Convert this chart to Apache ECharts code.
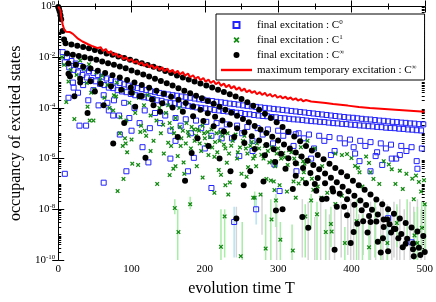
<!DOCTYPE html>
<html><head><meta charset="utf-8">
<script src="https://cdn.jsdelivr.net/npm/echarts@6/dist/echarts.min.js"></script>
<style>html,body{margin:0;padding:0;background:#fff}#c{width:436px;height:302px}</style>
</head><body><div id="c"></div><script>
// All occupancy values are stored as log10(occupancy).
// x = evolution time T

// --- C^0 (blue open squares)
const c0Row1 = [[6,-1.8],[12,-2.0],[18,-2.15],[24,-2.25],[30,-2.35],[36,-2.45],[42,-2.55],[48,-2.62],[54,-2.7],[60,-2.77],[66,-2.84],[72,-2.9],[78,-2.96],[84,-3.02],[90,-3.07],[96,-3.12],[102,-3.17],[108,-3.22],[114,-3.26],[120,-3.3],[126,-3.34],[132,-3.38],[138,-3.41],[144,-3.44],[150,-3.47],[156,-3.5],[162,-3.52],[168,-3.55],[174,-3.58],[180,-3.6],[186,-3.63],[192,-3.66],[198,-3.68],[204,-3.71],[210,-3.73],[216,-3.76],[222,-3.78],[228,-3.8],[234,-3.83],[240,-3.85],[246,-3.87],[252,-3.9],[258,-3.92],[264,-3.94],[270,-3.96],[276,-3.98],[282,-4.0],[288,-4.02],[294,-4.04],[300,-4.06],[306,-4.08],[312,-4.1],[318,-4.12],[324,-4.14],[330,-4.16],[336,-4.18],[342,-4.2],[348,-4.22],[354,-4.24],[360,-4.26],[366,-4.28],[372,-4.3],[378,-4.32],[384,-4.34],[390,-4.36],[396,-4.38],[402,-4.39],[408,-4.41],[414,-4.43],[420,-4.45],[426,-4.46],[432,-4.48],[438,-4.5],[444,-4.51],[450,-4.53],[456,-4.55],[462,-4.56],[468,-4.58],[474,-4.59],[480,-4.61],[486,-4.62],[492,-4.64],[498,-4.65]];
const c0Row2 = [[9,-2.2],[15,-2.4],[21,-2.5],[27,-2.6],[33,-2.7],[39,-2.8],[45,-2.9],[51,-2.95],[57,-3.05],[63,-3.1],[69,-3.2],[75,-3.22],[81,-3.3],[87,-3.35],[93,-3.38],[99,-3.45],[105,-3.5],[111,-3.52],[117,-3.58],[123,-3.6],[129,-3.65],[135,-3.7],[141,-3.72],[147,-3.78],[153,-3.8],[159,-3.82],[165,-3.86],[171,-3.9],[177,-3.92],[183,-3.95],[189,-3.98],[195,-4.0],[201,-4.02],[207,-4.05],[213,-4.08],[219,-4.1],[225,-4.12],[231,-4.14],[237,-4.16],[243,-4.19],[249,-4.2],[255,-4.24],[261,-4.25],[267,-4.28],[273,-4.3],[279,-4.32],[285,-4.33],[291,-4.36],[297,-4.37],[303,-4.4],[309,-4.41],[315,-4.43],[321,-4.45],[327,-4.46],[333,-4.48],[339,-4.5],[345,-4.52],[351,-4.53],[357,-4.55],[363,-4.56],[369,-4.58],[375,-4.6],[381,-4.61],[387,-4.63],[393,-4.64],[399,-4.66],[405,-4.67],[411,-4.69],[417,-4.7],[423,-4.72],[429,-4.73],[435,-4.75],[441,-4.76],[447,-4.78],[453,-4.79],[459,-4.8],[465,-4.82],[471,-4.83],[477,-4.85],[483,-4.86],[489,-4.88],[495,-4.89]];
const c0Arch = [[20,-3.0],[27,-3.4],[34,-3.1],[41,-3.7],[48,-3.3],[55,-3.9],[62,-3.5],[69,-4.1],[76,-3.7],[83,-4.3],[90,-3.8],[97,-4.4],[104,-4.0],[111,-4.6],[118,-4.1],[125,-4.8],[132,-4.2],[139,-4.6],[146,-4.3],[153,-4.9],[160,-4.4],[167,-4.7],[174,-4.45],[181,-5.0],[188,-4.5],[195,-4.8],[202,-4.55],[209,-5.1],[216,-4.6],[223,-4.9],[230,-4.65],[237,-5.2],[244,-4.7],[251,-5.0],[258,-4.75],[265,-5.3],[272,-4.8],[279,-5.05],[286,-4.85],[293,-5.4],[300,-4.9],[307,-5.1],[314,-4.95],[321,-5.5],[328,-5.0],[335,-5.2],[342,-5.05],[349,-5.6],[356,-5.1],[363,-5.3],[370,-5.15],[377,-5.7],[384,-5.2],[391,-5.4],[398,-5.25],[405,-5.8],[412,-5.3],[419,-5.5],[426,-5.35],[433,-5.9],[440,-5.4],[447,-5.6],[454,-5.45],[461,-6.0],[468,-5.5],[475,-5.7],[482,-5.55],[489,-6.1],[496,-5.6]];
const c0Loose = [[14,-3.6],[21,-3.2],[29,-4.7],[38,-4.7],[67,-3.8],[75,-4.3],[9,-6.6],[62,-6.95],[93,-6.5],[123,-6.15],[115,-5.55],[153,-6.0],[84,-5.05],[100,-4.9],[185,-5.97],[177,-6.5],[209,-7.16],[223,-5.2],[247,-5.9],[295,-6.23],[302,-7.28],[325,-6.5],[324,-5.04],[240,-8.5],[270,-8.0],[372,-5.86],[403,-5.55],[411,-6.1],[426,-6.5],[435,-5.75],[442,-6.25],[466,-5.86],[490,-6.4],[450,-8.35],[482,-9.3],[160,-5.3],[200,-5.6],[265,-5.7],[345,-6.0],[455,-6.0]];

// --- C^1 (green crosses)
const c1Upper = [[5,-2.0],[8,-2.3],[11,-3.77],[14,-2.96],[17,-2.5],[22,-4.44],[25,-2.7],[29,-2.84],[30,-2.13],[35,-2.46],[39,-3.02],[40,-3.95],[42,-2.28],[43,-4.5],[45,-3.4],[48,-4.5],[49,-3.28],[52,-2.6],[57,-2.9],[60,-2.73],[63,-3.6],[67,-3.1],[70,-4.0],[75,-4.1],[76,-3.5],[79,-3.55],[80,-3.0],[85,-4.37],[88,-3.3],[93,-4.5],[97,-3.8],[102,-3.4],[105,-4.2],[110,-3.6],[113,-4.7],[117,-3.9],[118,-4.9],[122,-3.5],[126,-4.3],[130,-3.65],[134,-4.5],[138,-4.0],[143,-4.66],[147,-4.2],[150,-3.9],[155,-4.8],[160,-4.4],[165,-4.0]];
const c1Middle = [[84,-5.0],[91,-5.2],[100,-5.25],[92,-5.4],[88,-5.5],[94,-5.75],[101,-6.2],[109,-6.25],[89,-6.8],[81,-7.28],[126,-5.7],[135,-7.0],[144,-5.8],[150,-5.37],[154,-5.5],[152,-6.65],[157,-6.4],[160,-6.3],[163,-5.9],[167,-5.5],[159,-7.95],[164,-8.9],[112,-4.95],[120,-5.1],[140,-5.0],[130,-5.3],[170,-4.9],[175,-4.6],[178,-5.1],[182,-4.75],[186,-5.3],[190,-4.85],[193,-5.4],[197,-4.7],[200,-5.2],[204,-4.95],[210,-5.56],[213,-5.93],[205,-5.86],[216,-5.0],[220,-5.3],[224,-5.1],[228,-5.6],[236,-5.49],[240,-5.2],[248,-5.56],[252,-5.3],[258,-5.8],[262,-5.5],[268,-5.9],[274,-5.6],[280,-6.0],[286,-5.7],[292,-6.1],[298,-5.8],[307,-5.79],[315,-5.67],[322,-6.0],[330,-5.9],[336,-6.2],[340,-5.3],[350,-5.6]];
const c1Cloud = [[152,-4.6],[158,-5.0],[166,-4.75],[168,-5.2],[174,-5.4],[177,-4.95],[181,-5.6],[185,-4.85],[188,-5.1],[192,-4.9],[195,-5.7],[199,-5.0],[202,-5.45],[207,-5.15],[209,-4.85],[214,-5.35],[217,-5.75],[221,-4.95],[226,-5.45],[231,-5.0],[233,-5.8],[238,-5.3],[242,-5.05],[245,-5.75],[254,-5.1],[256,-5.6],[264,-5.35],[266,-6.0],[271,-5.4],[277,-5.85],[282,-5.5],[288,-6.15],[291,-5.55],[296,-6.3],[300,-5.6],[304,-6.0],[309,-5.95],[313,-6.25],[318,-5.75],[326,-6.2],[331,-5.55],[334,-6.1]];
const c1Lower = [[171,-6.15],[172,-6.6],[189,-6.3],[197,-6.75],[213,-7.35],[232,-7.42],[228,-7.05],[234,-6.94],[222,-6.64],[219,-6.45],[230,-6.16],[259,-6.34],[257,-6.72],[276,-7.42],[266,-7.54],[284,-6.8],[290,-6.86],[294,-6.9],[295,-7.24],[302,-7.05],[311,-6.42],[321,-6.9],[328,-6.98],[333,-6.8],[244,-6.0],[250,-6.6],[270,-6.3],[312,-7.3],[180,-7.8],[227,-8.28],[249,-9.85],[222,-9.48],[283,-9.55],[291,-8.4],[303,-9.2],[320,-9.63],[268,-7.54],[297,-7.65],[324,-7.54]];
const c1Right = [[378,-5.8],[387,-5.86],[394,-5.82],[400,-5.98],[405,-6.29],[409,-6.36],[411,-6.54],[420,-5.92],[424,-6.17],[426,-6.54],[444,-6.1],[451,-6.23],[455,-6.42],[466,-6.48],[475,-6.6],[483,-6.79],[488,-6.67],[492,-6.92],[499,-6.85],[335,-6.54],[337,-6.92],[346,-6.79],[348,-7.23],[354,-7.1],[359,-7.54],[367,-7.35],[378,-7.79],[387,-7.47],[337,-8.28],[345,-7.65],[353,-8.2],[365,-8.9],[373,-8.88],[372,-8.58],[391,-9.33],[407,-8.47],[424,-9.5],[440,-9.7],[449,-9.33],[462,-8.54],[486,-9.03],[490,-9.33],[496,-8.73],[501,-8.54],[495,-7.3],[500,-7.8],[485,-7.6],[470,-7.2],[460,-7.0],[438,-7.0],[430,-6.8],[415,-7.1],[395,-6.7],[360,-6.3],[342,-6.1]];

// --- C^inf (black dots)
const cInfEarly = [[0,-0.02],[1,-0.1],[2,-0.2],[3,-0.35],[4,-0.5],[6,-0.97],[8,-1.3]];
const cInfBand1 = [[10,-1.45],[18,-1.5],[26,-1.55],[34,-1.6],[42,-1.65],[50,-1.72],[58,-1.78],[66,-1.85],[74,-1.9],[82,-1.97],[90,-2.03],[98,-2.1],[106,-2.17],[114,-2.24],[122,-2.31],[130,-2.38],[138,-2.46],[146,-2.54],[154,-2.62],[162,-2.72],[170,-2.8],[178,-2.88],[186,-2.96],[194,-3.04],[202,-3.12],[210,-3.2],[218,-3.28],[226,-3.37],[234,-3.46],[242,-3.55],[250,-3.65],[258,-3.78],[266,-3.92],[274,-4.07],[282,-4.23],[290,-4.4],[298,-4.57],[306,-4.75],[314,-4.94],[322,-5.13],[330,-5.32],[338,-5.5],[346,-5.68],[354,-5.86],[362,-6.03],[370,-6.2],[378,-6.37],[386,-6.54],[394,-6.7],[402,-6.87],[410,-7.05],[418,-7.23],[426,-7.42],[434,-7.61],[442,-7.8],[450,-8.0],[458,-8.18],[466,-8.36],[474,-8.54],[482,-8.72],[490,-8.88],[498,-9.05]];
const cInfBand2 = [[12,-1.85],[20,-1.9],[28,-1.95],[36,-2.0],[44,-2.05],[52,-2.1],[60,-2.17],[68,-2.24],[76,-2.3],[84,-2.37],[92,-2.44],[100,-2.52],[108,-2.6],[116,-2.68],[124,-2.76],[132,-2.85],[140,-2.94],[148,-3.03],[156,-3.12],[164,-3.22],[172,-3.32],[180,-3.42],[188,-3.52],[196,-3.62],[204,-3.73],[212,-3.84],[220,-3.95],[228,-4.07],[236,-4.19],[244,-4.31],[252,-4.44],[260,-4.57],[268,-4.71],[276,-4.85],[284,-4.99],[292,-5.14],[300,-5.29],[308,-5.44],[316,-5.6],[324,-5.76],[332,-5.92],[340,-6.08],[348,-6.25],[356,-6.42],[364,-6.59],[372,-6.76],[380,-6.93],[388,-7.11],[396,-7.29],[404,-7.47],[412,-7.65],[420,-7.83],[428,-8.02],[436,-8.21],[444,-8.4],[452,-8.59],[460,-8.78],[468,-8.97],[476,-9.16],[484,-9.35],[492,-9.52],[500,-9.68]];
const cInfBand3 = [[14,-2.25],[24,-2.3],[34,-2.38],[44,-2.45],[54,-2.53],[64,-2.62],[74,-2.71],[84,-2.8],[94,-2.9],[104,-3.0],[114,-3.1],[124,-3.21],[134,-3.32],[144,-3.44],[154,-3.56],[164,-3.68],[174,-3.81],[184,-3.94],[194,-4.07],[204,-4.21],[214,-4.35],[224,-4.5],[234,-4.65],[244,-4.8],[254,-4.96],[264,-5.12],[274,-5.29],[284,-5.46],[294,-5.63],[304,-5.81],[314,-5.99],[324,-6.18],[334,-6.37],[344,-6.57],[354,-6.77],[364,-6.97],[374,-7.18],[384,-7.39],[394,-7.6],[404,-7.82],[414,-8.04],[424,-8.26],[434,-8.48],[444,-8.7],[454,-8.92],[464,-9.14],[474,-9.36],[484,-9.58],[494,-9.8]];
const cInfBand4 = [[16,-2.75],[30,-2.85],[44,-2.95],[58,-3.05],[72,-3.15],[86,-3.28],[100,-3.4],[114,-3.53],[128,-3.67],[142,-3.82],[156,-3.98],[170,-4.15],[184,-4.33],[198,-4.52],[212,-4.72],[226,-4.93],[240,-5.15],[254,-5.38],[268,-5.62],[282,-5.87],[296,-6.13],[310,-6.4],[324,-6.68],[338,-6.97],[352,-7.27],[366,-7.58],[380,-7.9],[394,-8.23],[408,-8.57],[422,-8.92],[436,-9.28],[450,-9.65]];
const cInfLoose = [[14,-2.65],[22,-3.54],[40,-4.2],[75,-5.4],[119,-5.97],[163,-5.15],[30,-3.0],[50,-3.35],[62,-3.9],[90,-4.6],[99,-3.2],[111,-3.54],[130,-3.9],[139,-4.15],[105,-3.95],[182,-5.78],[173,-6.87],[190,-5.2],[235,-6.5],[253,-7.05],[243,-8.36],[297,-8.05],[306,-8.0],[333,-8.3],[262,-6.5],[341,-8.73],[377,-9.6],[399,-9.33],[403,-8.9],[416,-8.47],[426,-8.5],[440,-9.7],[443,-9.14],[458,-8.77],[449,-8.4],[360,-7.6],[390,-7.9],[470,-9.5],[485,-9.85],[220,-6.0],[205,-5.5],[280,-6.9],[320,-7.2],[350,-7.0],[375,-7.3]];

// --- maximum temporary excitation (red line)
const cMax = [[0,0],[2,-0.03],[3,-0.15],[4,-0.4],[6,-0.7],[8,-0.9],[11,-1.0],[16,-1.01],[20,-1.08],[27,-1.27],[33,-1.38],[40,-1.48],[47,-1.57],[54,-1.64],
[58,-1.61],[61,-1.75],[65,-1.68],[68,-1.84],[72,-1.76],[75,-1.92],[79,-1.85],[82,-2.0],[86,-1.93],[89,-2.08],[93,-2.0],[96,-2.15],[100,-2.07],[103,-2.22],[107,-2.14],[110,-2.29],[114,-2.2],[117,-2.35],[121,-2.26],[124,-2.4],[128,-2.31],[131,-2.45],[135,-2.36],[138,-2.5],[142,-2.4],[145,-2.55],[149,-2.45],[152,-2.59],[156,-2.5],[159,-2.63],[163,-2.54],[166,-2.68],[170,-2.58],[173,-2.73],[177,-2.64],[180,-2.79],[184,-2.71],[187,-2.85],[191,-2.77],[194,-2.91],[198,-2.82],[201,-2.97],[205,-2.88],[208,-3.02],[212,-2.93],[215,-3.07],[219,-2.98],[222,-3.13],[226,-3.04],[229,-3.18],[233,-3.09],[236,-3.23],[240,-3.14],[243,-3.28],[247,-3.19],[250,-3.33],[254,-3.24],[257,-3.38],[261,-3.3],[264,-3.41],[268,-3.34],[271,-3.46],[275,-3.38],[278,-3.49],[282,-3.41],[285,-3.53],[289,-3.45],[292,-3.56],[296,-3.48],[299,-3.6],[303,-3.53],[306,-3.62],[310,-3.56],[313,-3.65],[317,-3.59],[320,-3.68],[324,-3.62],[327,-3.71],[331,-3.65],[334,-3.74],[338,-3.69],
[345,-3.75],[355,-3.78],[365,-3.81],[375,-3.85],[385,-3.88],[395,-3.91],[410,-3.96],[425,-4.0],[440,-4.03],[460,-4.07],[480,-4.11],[500,-4.15]];

// --- error bars [T, lower log10, upper log10]
const errC1 = [[159,-7.6,-8.2],[163,-8.0,-10],[180,-7.5,-8.0],[222,-8.0,-10],[227,-8.0,-9.9],[251,-8.5,-10],[268,-7.3,-7.9],[283,-8.2,-10],[290,-7.6,-10],[297,-7.4,-8.7],[303,-8.5,-10],[319,-8.6,-10],[337,-7.8,-9.9],[345,-7.4,-8.8],[353,-7.7,-10],[365,-8.0,-10],[372,-7.9,-9.5],[391,-8.7,-10],[407,-7.6,-10],[424,-8.6,-10],[440,-9.0,-10],[449,-8.0,-10],[462,-7.8,-9.5],[486,-8.1,-10],[490,-7.9,-10],[496,-7.7,-9.8],[501,-7.8,-9.6],[476,-7.6,-9.3],[432,-7.6,-9.9],[415,-8.2,-10]];
const errCInf = [[243,-7.9,-9.9],[278,-7.4,-9.0],[298,-7.8,-10],[333,-7.6,-9.9],[341,-7.7,-10],[358,-7.6,-10],[377,-8.0,-10],[386,-7.7,-9.9],[399,-7.6,-10],[403,-7.9,-10],[416,-7.6,-9.8],[426,-7.7,-10],[440,-7.9,-10],[443,-7.6,-10],[449,-7.8,-10],[458,-7.7,-9.9],[466,-7.6,-10],[472,-8.0,-10],[480,-7.7,-10],[485,-7.9,-10],[490,-7.6,-10],[495,-8.0,-10],[500,-7.8,-10],[410,-8.2,-10],[395,-8.0,-9.8],[370,-8.2,-10],[350,-8.3,-10],[433,-7.9,-10],[455,-8.1,-10],[462,-7.9,-10]];
const errC0 = [[240,-7.9,-9.9],[270,-7.5,-8.6],[450,-8.0,-9.5]];

const xTicks = [0,100,200,300,400,500];
const yMajorExp = [0,-2,-4,-6,-8,-10];

const SERIF = '"Liberation Serif","Times New Roman",serif';
const pts = a => a.map(p => [p[0], Math.pow(10, p[1])]);
const bars = a => a.map(b => [b[0], Math.pow(10, b[1]), Math.pow(10, b[2])]);
const yMajor = yMajorExp.map(e => Math.pow(10, e));
const yMinorExp = [];
for (let n = -10; n < 0; n++) for (let k = 1; k <= 9; k++) {
  if (k === 1 && n % 2 === 0) continue;
  yMinorExp.push(n + Math.log10(k));
}

const chart = echarts.init(document.getElementById('c'), null, {renderer:'canvas'});
function errSeries(data, color) {
  return {type:'custom', silent:true, z:1, data:bars(data), encode:{x:0,y:[1,2]},
    renderItem:(params, api) => {
      const a = api.coord([api.value(0), api.value(1)]);
      const b = api.coord([api.value(0), api.value(2)]);
      return {type:'line', shape:{x1:a[0],y1:a[1],x2:b[0],y2:b[1]}, style:{stroke:color, lineWidth:1.5}};
    }};
}
const legendText = {
  c0: 'final excitation : C{s|0}',
  c1: 'final excitation : C{s|1}',
  ci: 'final excitation : C{s|∞}',
  cm: 'maximum temporary excitation : C{s|∞}'
};
const CROSS = 'path://M0,2L2,0L5,3L8,0L10,2L7,5L10,8L8,10L5,7L2,10L0,8L3,5Z';
const axisLineStyle = {lineStyle:{color:'#000', width:1}};
chart.setOption({
  animation:false,
  backgroundColor:'#fff',
  grid:{left:44, right:9, top:6, bottom:28},
  legend:{
    orient:'vertical', left:216, top:14,
    padding:[5,8,4,5], itemGap:3, itemWidth:31, itemHeight:6,
    symbolKeepAspect:true,
    borderColor:'#000', borderWidth:1, backgroundColor:'#fff',
    data:[
      {name:'c0', icon:'path://M0,0H10V10H0Z'},
      {name:'c1', icon:CROSS},
      {name:'ci', icon:'circle'},
      {name:'cm', icon:'path://M0,0H31V2.4H0Z', itemStyle:{color:'#ff0000'}}
    ],
    formatter: n => legendText[n],
    textStyle:{fontFamily:SERIF, fontSize:11, color:'#000', lineHeight:12,
      rich:{s:{fontFamily:SERIF, fontSize:7, color:'#000', padding:[0,0,5,0]}}}
  },
  xAxis:[
    {type:'value', min:0, max:500, interval:100, position:'bottom',
     name:'evolution time T', nameLocation:'middle', nameGap:21,
     nameTextStyle:{fontFamily:SERIF, fontSize:16, color:'#000'},
     axisLine:axisLineStyle, splitLine:{show:false},
     axisTick:{inside:true, length:6, lineStyle:{color:'#000'}},
     minorTick:{show:true, splitNumber:2, length:3, lineStyle:{color:'#000'}},
     axisLabel:{fontFamily:SERIF, fontSize:11, color:'#000', margin:4,
       customValues:xTicks}},
    {type:'value', min:0, max:500, interval:100, position:'top',
     axisLine:axisLineStyle, splitLine:{show:false}, axisLabel:{show:false},
     axisTick:{inside:true, length:6, lineStyle:{color:'#000'}},
     minorTick:{show:true, splitNumber:2, length:3, lineStyle:{color:'#000'}}}
  ],
  yAxis:[
    {type:'log', logBase:10, min:1e-10, max:1, position:'left',
     name:'occupancy of excited states', nameLocation:'middle', nameGap:30,
     nameTextStyle:{fontFamily:SERIF, fontSize:16, color:'#000'},
     axisLine:axisLineStyle, splitLine:{show:false},
     axisTick:{inside:true, length:6, lineStyle:{color:'#000'}, customValues:yMajor},
     axisLabel:{customValues:yMajor, margin:3,
       formatter: v => '{b|10}{s|' + Math.round(Math.log10(v)) + '}',
       rich:{b:{fontFamily:SERIF, fontSize:11, color:'#000'},
             s:{fontFamily:SERIF, fontSize:7, color:'#000', padding:[0,0,6,0]}}}},
    {type:'log', logBase:10, min:1e-10, max:1, position:'right',
     axisLine:axisLineStyle, splitLine:{show:false}, axisLabel:{show:false},
     axisTick:{inside:true, length:6, lineStyle:{color:'#000'}, customValues:yMajor}},
    {type:'value', min:-10, max:0, position:'left', axisLine:{show:false},
     splitLine:{show:false}, axisLabel:{show:false},
     axisTick:{inside:true, length:3, lineStyle:{color:'#000'}, customValues:yMinorExp}},
    {type:'value', min:-10, max:0, position:'right', axisLine:{show:false},
     splitLine:{show:false}, axisLabel:{show:false},
     axisTick:{inside:true, length:3, lineStyle:{color:'#000'}, customValues:yMinorExp}}
  ],
  series:[
    errSeries(errCInf, '#d4d4d4'),
    errSeries(errC1, '#a6eda6'),
    errSeries(errC0, '#b4e4f4'),
    {name:'c0', type:'scatter', symbol:'rect', symbolSize:5,
     itemStyle:{color:'rgba(255,255,255,0)', borderColor:'#2222ff', borderWidth:1, opacity:1},
     data:pts([].concat(c0Row1, c0Row2, c0Arch, c0Loose))},
    {name:'c1', type:'scatter', symbol:CROSS, symbolSize:4.5,
     itemStyle:{color:'#128a12', opacity:1},
     data:pts([].concat(c1Upper, c1Middle, c1Cloud, c1Lower, c1Right))},
    {name:'ci', type:'scatter', symbol:'circle', symbolSize:6,
     itemStyle:{color:'#000', opacity:1},
     data:pts([].concat(cInfEarly, cInfBand1, cInfBand2, cInfBand3, cInfBand4, cInfLoose))},
    {name:'cm', type:'line', symbol:'none', lineStyle:{color:'#ff0000', width:2},
     itemStyle:{color:'#ff0000'}, data:pts(cMax)}
  ]
});
</script></body></html>
